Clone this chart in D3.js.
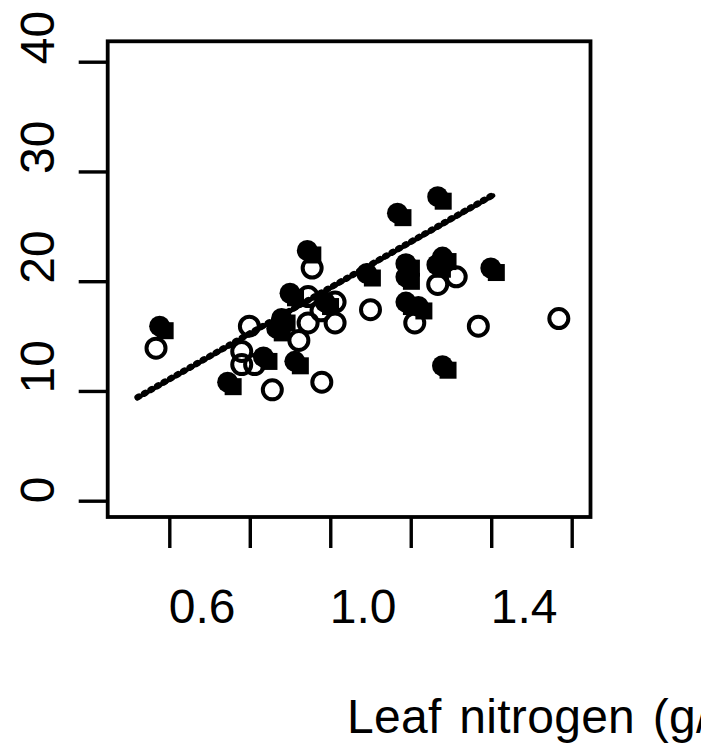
<!DOCTYPE html>
<html>
<head>
<meta charset="utf-8">
<script src="https://cdn.jsdelivr.net/npm/d3@7"></script>
<style>
  html, body { margin: 0; padding: 0; background: #fff; }
  svg { display: block; }
  text { font-family: "Liberation Sans", Arial, Helvetica, sans-serif; fill: #000; }
</style>
</head>
<body>
<svg id="chart" width="701" height="751"></svg>
<script>
// Leaf nitrogen vs. response, two groups
const filledX = [0.576, 0.745, 0.834, 0.879, 0.867, 0.900, 0.912, 0.943, 0.987, 1.091,
                 1.167, 1.188, 1.188, 1.188, 1.219, 1.267, 1.279, 1.265, 1.279, 1.399];
const filledY = [15.9, 10.8, 13.1, 16.6, 15.7, 18.9, 12.7, 22.8, 18.1, 20.7,
                 26.2, 21.6, 20.4, 18.1, 17.7, 27.7, 22.2, 21.5, 12.3, 21.2];

const openX = [0.567, 0.799, 0.780, 0.780, 0.812, 0.856, 0.922, 0.945, 0.955, 0.945,
               0.979, 1.012, 1.012, 0.977, 1.100, 1.210, 1.267, 1.313, 1.368, 1.568];
const openY = [13.9, 15.9, 13.6, 12.4, 12.4, 10.1, 14.6, 16.2, 21.2, 18.6,
               10.8, 16.2, 18.1, 17.3, 17.4, 16.2, 19.7, 20.4, 15.9, 16.6];

// fitted line y = a + b * x over the range it is drawn
const fitIntercept = -1.52;
const fitSlope = 20.87;
const fitRange = [0.52, 1.405];

const xTicks = [0.6, 0.8, 1.0, 1.2, 1.4, 1.6];
const xTickLabels = ["0.6", "", "1.0", "", "1.4", ""];
const yTicks = [0, 10, 20, 30, 40];
const xTitle = "Leaf nitrogen (g/m\u00B2)";

const svg = d3.select("#chart");

const x = d3.scaleLinear().domain([0.6, 1.6]).range([169.3, 571.7]);
const y = d3.scaleLinear().domain([0, 40]).range([500.7, 61.7]);

const box = { left: x.invert(107.7), right: x.invert(590.5), bottom: y.invert(517), top: y.invert(41.3) };

// plot frame
svg.append("rect")
  .attr("x", x(box.left)).attr("y", y(box.top))
  .attr("width", x(box.right) - x(box.left))
  .attr("height", y(box.bottom) - y(box.top))
  .attr("fill", "none").attr("stroke", "#000").attr("stroke-width", 3.8);

// x axis: ticks hang below the frame, labels start at each tick
const xAxis = d3.axisBottom(x).tickValues(xTicks).tickSize(31).tickSizeOuter(0)
  .tickFormat((d, i) => xTickLabels[i]);
const gx = svg.append("g").attr("transform", `translate(0,${y(box.bottom)})`).call(xAxis);
gx.select(".domain").remove();
gx.selectAll(".tick line").attr("stroke", "#000").attr("stroke-width", 3.4);
gx.selectAll(".tick text")
  .attr("y", 106).attr("dy", 0).attr("x", -1)
  .attr("text-anchor", "start")
  .style("font-size", "48px").style("font-family", "Liberation Sans, Arial, sans-serif");

// y axis: rotated labels start at each tick
const yAxis = d3.axisLeft(y).tickValues(yTicks).tickSize(29).tickSizeOuter(0).tickFormat(d3.format("d"));
const gy = svg.append("g").attr("transform", `translate(${x(box.left)},0)`).call(yAxis);
gy.select(".domain").remove();
gy.selectAll(".tick line").attr("stroke", "#000").attr("stroke-width", 3.4);
gy.selectAll(".tick text")
  .attr("x", null).attr("dy", null)
  .attr("text-anchor", "start")
  .attr("transform", "translate(-54,2) rotate(-90)")
  .style("font-size", "48px").style("font-family", "Liberation Sans, Arial, sans-serif");

// axis title
svg.append("text")
  .attr("x", 347).attr("y", 733)
  .attr("text-anchor", "start")
  .style("font-size", "48px")
  .style("letter-spacing", "0.3px")
  .style("word-spacing", "4px")
  .text(xTitle);

// filled group: disc with a square shadow to the lower right
const filled = svg.append("g");
filledX.forEach((v, i) => {
  const cx = x(v), cy = y(filledY[i]);
  filled.append("rect")
    .attr("x", cx - 3).attr("y", cy - 4)
    .attr("width", 17).attr("height", 17)
    .attr("fill", "#000");
  filled.append("circle")
    .attr("cx", cx).attr("cy", cy).attr("r", 10.5)
    .attr("fill", "#000");
});

// open group
svg.append("g").selectAll("circle")
  .data(openX.map((v, i) => [v, openY[i]]))
  .join("circle")
  .attr("cx", d => x(d[0])).attr("cy", d => y(d[1]))
  .attr("r", 9.5)
  .attr("fill", "none").attr("stroke", "#000").attr("stroke-width", 4);

// fitted line with beaded texture
const fitPts = fitRange.map(v => [x(v), y(fitIntercept + fitSlope * v)]);
const line = d3.line();
svg.append("path").attr("d", line(fitPts))
  .attr("fill", "none").attr("stroke", "#000").attr("stroke-width", 4.2)
  .attr("stroke-linecap", "round");
svg.append("path").attr("d", line(fitPts))
  .attr("fill", "none").attr("stroke", "#000").attr("stroke-width", 6.5)
  .attr("stroke-dasharray", "1.5,6").attr("stroke-linecap", "round")
  .attr("transform", "translate(0.5,-1)");
</script>
</body>
</html>
